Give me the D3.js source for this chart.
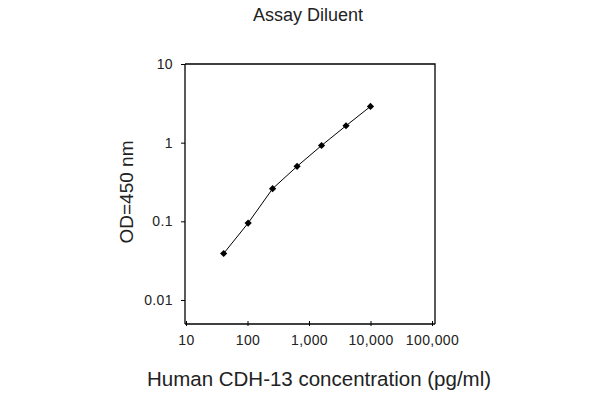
<!DOCTYPE html>
<html><head><meta charset="utf-8">
<script src="https://cdn.jsdelivr.net/npm/d3@7"></script>
<style>body{margin:0;background:#fff}text{font-family:Arial,"Liberation Sans",sans-serif;fill:#222}</style>
</head><body>
<svg id="c" width="600" height="400"></svg>
<script>
const concentrations = [40.96, 102.4, 256, 640, 1600, 4000, 10000];
const odValues = [0.039, 0.095, 0.26, 0.50, 0.92, 1.64, 2.89];
const xTicks = [10, 100, 1000, 10000, 100000];
const xTickLabels = ["10", "100", "1,000", "10,000", "100,000"];
const yTicks = [0.01, 0.1, 1, 10];
const yTickLabels = ["0.01", "0.1", "1", "10"];

const svg = d3.select("#c");
const L = 185, R = 435, T = 64, B = 324;
const x = d3.scaleLog().domain([10, 100000]).range([186, 432]);
const y = d3.scaleLog().domain([0.00495, 10]).range([B, T]);

// frame
svg.append("path").attr("d", `M${L},${T}H${R}V${B}`).attr("fill","none").attr("stroke","#000").attr("stroke-width",1.3);

const xAxis = svg.append("g").attr("transform", `translate(0,${B})`)
  .call(d3.axisBottom(x).tickValues(xTicks).tickFormat((d,i)=>xTickLabels[i]).tickSizeInner(3).tickSizeOuter(0).tickPadding(8));
xAxis.select(".domain").attr("d", `M${L},0H${R}`).attr("stroke","#000").attr("stroke-width",1.3);
xAxis.selectAll(".tick line").attr("y1",-3).attr("y2",2).attr("stroke","#000");
xAxis.selectAll("text").attr("font-size",14).attr("letter-spacing","0.4px").attr("fill","#222").attr("font-family","Arial, Liberation Sans, sans-serif");

const yAxis = svg.append("g").attr("transform", `translate(${L},0)`)
  .call(d3.axisLeft(y).tickValues(yTicks).tickFormat((d,i)=>yTickLabels[i]).tickSizeInner(4).tickSizeOuter(0).tickPadding(8));
yAxis.select(".domain").attr("d", `M0,${T}V${B}`).attr("stroke","#000").attr("stroke-width",1.3);
yAxis.selectAll(".tick line").attr("stroke","#000");
yAxis.selectAll("text").attr("font-size",14).attr("letter-spacing","0.4px").attr("fill","#222").attr("font-family","Arial, Liberation Sans, sans-serif");

const pts = concentrations.map((c,i)=>[c, odValues[i]]);
svg.append("path").datum(pts)
  .attr("d", d3.line().x(d=>x(d[0])).y(d=>y(d[1])))
  .attr("fill","none").attr("stroke","#000").attr("stroke-width",1);
svg.selectAll(".pt").data(pts).enter().append("path")
  .attr("d", d3.symbol().type(d3.symbolSquare).size(26))
  .attr("transform", d=>`translate(${x(d[0])},${y(d[1])}) rotate(45)`)
  .attr("fill","#000");

svg.append("text").attr("x",308).attr("y",21).attr("text-anchor","middle").attr("font-size",18).text("Assay Diluent");
svg.append("text").attr("x",319).attr("y",386).attr("text-anchor","middle").attr("font-size",20.5).text("Human CDH-13 concentration (pg/ml)");
svg.append("text").attr("transform","translate(133,192) rotate(-90)").attr("text-anchor","middle").attr("font-size",19).text("OD=450 nm");
</script>
</body></html>
